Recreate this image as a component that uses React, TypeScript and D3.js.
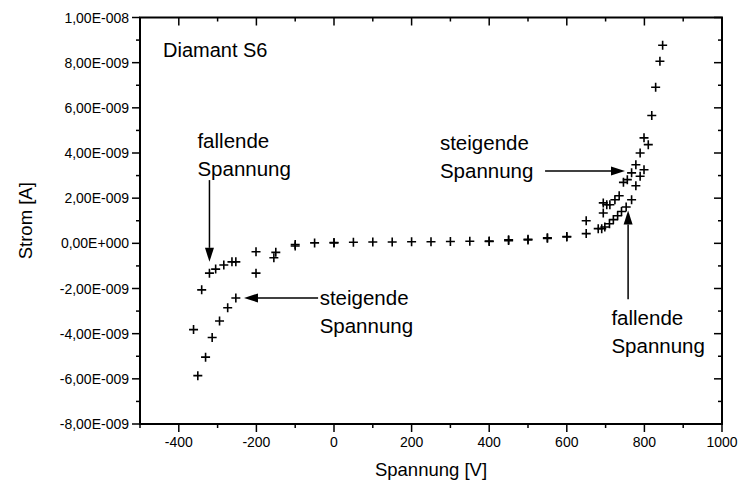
import React, { useEffect } from "react";
import * as d3 from "d3";

// rising voltage branch (steigende Spannung), V and current in units of 1e-9 A
const risingV = [-351, -331, -314, -295, -274, -253, -201, -155,
  -100, -50, 0, 50, 100, 150, 200, 250, 300, 350, 400, 450, 500, 550, 600, 650,
  694, 703, 711, 694, 724, 735, 746, 756, 767, 778, 789, 799, 819, 829, 840, 847];
const risingI = [-5.86, -5.04, -4.17, -3.44, -2.85, -2.42, -1.32, -0.64,
  -0.05, 0.02, 0.04, 0.05, 0.06, 0.06, 0.07, 0.07, 0.08, 0.09, 0.1, 0.16, 0.18, 0.25, 0.3, 1.0,
  1.79, 1.71, 1.71, 1.34, 1.93, 2.11, 2.7, 2.82, 3.12, 3.48, 4.0, 4.67, 5.66, 6.91, 8.06, 8.77];

// falling voltage branch (fallende Spannung)
const fallingV = [810, 799, 789, 778, 767, 753, 741, 731, 720, 710, 698, 690, 681,
  650, 600, 550, 500, 450, 400, 0, -100, -150, -201,
  -253, -263, -284, -305, -321, -341, -362];
const fallingI = [4.37, 3.26, 2.97, 2.55, 1.93, 1.61, 1.41, 1.22, 1.05, 0.87, 0.72, 0.65, 0.65,
  0.43, 0.28, 0.22, 0.15, 0.12, 0.08, 0.02, -0.12, -0.4, -0.37,
  -0.82, -0.82, -0.96, -1.14, -1.32, -2.06, -3.82];

const yTickLabels = ["-8,00E-009", "-6,00E-009", "-4,00E-009", "-2,00E-009", "0,00E+000",
  "2,00E-009", "4,00E-009", "6,00E-009", "8,00E-009", "1,00E-008"];
const yTickValues = [-8, -6, -4, -2, 0, 2, 4, 6, 8, 10];
const xTickValues = [-400, -200, 0, 200, 400, 600, 800, 1000];

// annotations: text lines, text anchor (data coords), arrow from -> to (data coords)
const notes = [
  { lines: ["fallende", "Spannung"], tx: -352, ty: 4.2, from: [-321, 2.8], to: [-321, -0.82] },
  { lines: ["steigende", "Spannung"], tx: -37, ty: -2.75, from: [-41, -2.42], to: [-232, -2.42] },
  { lines: ["steigende", "Spannung"], tx: 273, ty: 4.15, from: [544, 3.2], to: [750, 3.2] },
  { lines: ["fallende", "Spannung"], tx: 715, ty: -3.6, from: [758, -2.48], to: [758, 1.45] },
];

const W = 738, H = 491;
const margin = { top: 17.5, right: 16, bottom: 67, left: 140 };
const FONT = "Arial, 'Liberation Sans', Helvetica, sans-serif";

export default function App() {
  useEffect(() => {
    document.body.style.margin = "0";
  }, []);

  const x = d3.scaleLinear().domain([-500, 1000]).range([margin.left, W - margin.right]);
  const y = d3.scaleLinear().domain([-8, 10]).range([H - margin.bottom, margin.top]);
  const [x0, x1] = x.range();
  const [y0, y1] = y.range();

  const xMinor = d3.range(-500, 1001, 100);
  const yMinor = d3.range(-8, 10.01, 1);

  const plus = (px: number, py: number, k: string) => (
    <path key={k} d={`M${px - 4.5},${py}H${px + 4.5}M${px},${py - 4.5}V${py + 4.5}`}
      stroke="#000" strokeWidth={1.6} />
  );

  const arrow = (fx: number, fy: number, tx: number, ty: number, k: string) => {
    const a = Math.atan2(ty - fy, tx - fx);
    const len = 14, half = 4.5;
    const bx = tx - len * Math.cos(a), by = ty - len * Math.sin(a);
    const p1 = [bx + half * Math.sin(a), by - half * Math.cos(a)];
    const p2 = [bx - half * Math.sin(a), by + half * Math.cos(a)];
    return (
      <g key={k}>
        <line x1={fx} y1={fy} x2={bx} y2={by} stroke="#000" strokeWidth={1.5} />
        <path d={`M${tx},${ty}L${p1[0]},${p1[1]}L${p2[0]},${p2[1]}Z`} fill="#000" />
      </g>
    );
  };

  return (
    <svg width={W} height={H} style={{ display: "block", background: "#fff" }} fontFamily={FONT}>
      {/* frame */}
      <rect x={x0} y={y1} width={x1 - x0} height={y0 - y1} fill="none" stroke="#000" strokeWidth={2} />

      {/* x ticks bottom (outside) and top (inside) */}
      {xMinor.map((v) => {
        const major = v % 200 === 0;
        return (
          <g key={"xt" + v}>
            <line x1={x(v)} x2={x(v)} y1={y0} y2={y0 + (major ? 8 : 4)} stroke="#000" strokeWidth={1.5} />
            <line x1={x(v)} x2={x(v)} y1={y1} y2={y1 + (major ? 8 : 4)} stroke="#000" strokeWidth={1.5} />
          </g>
        );
      })}
      {xTickValues.map((v) => (
        <text key={"xl" + v} x={x(v)} y={y0 + 23} textAnchor="middle" fontSize={14}>{v}</text>
      ))}

      {/* y ticks left (outside) and right (inside) */}
      {yMinor.map((v) => {
        const major = Math.round(v) % 2 === 0;
        return (
          <g key={"yt" + v}>
            <line x1={x0} x2={x0 - (major ? 8 : 4)} y1={y(v)} y2={y(v)} stroke="#000" strokeWidth={1.5} />
            <line x1={x1} x2={x1 - (major ? 8 : 4)} y1={y(v)} y2={y(v)} stroke="#000" strokeWidth={1.5} />
          </g>
        );
      })}
      {yTickValues.map((v, i) => (
        <text key={"yl" + v} x={x0 - 11} y={y(v) + 5} textAnchor="end" fontSize={14}>{yTickLabels[i]}</text>
      ))}

      {/* axis titles */}
      <text x={(x0 + x1) / 2} y={476} textAnchor="middle" fontSize={18.5}>Spannung [V]</text>
      <text transform={`translate(32,${(y0 + y1) / 2}) rotate(-90)`} textAnchor="middle" fontSize={18.5}>Strom [A]</text>

      {/* data */}
      {risingV.map((v, i) => plus(x(v), y(risingI[i]), "r" + i))}
      {fallingV.map((v, i) => plus(x(v), y(fallingI[i]), "f" + i))}

      {/* labels */}
      <text x={163} y={57} fontSize={20}>Diamant S6</text>
      {notes.map((n, i) => (
        <g key={"n" + i}>
          {n.lines.map((l, j) => (
            <text key={j} x={x(n.tx)} y={y(n.ty) + j * 28} fontSize={20.5}>{l}</text>
          ))}
          {arrow(x(n.from[0]), y(n.from[1]), x(n.to[0]), y(n.to[1]), "a" + i)}
        </g>
      ))}
    </svg>
  );
}
